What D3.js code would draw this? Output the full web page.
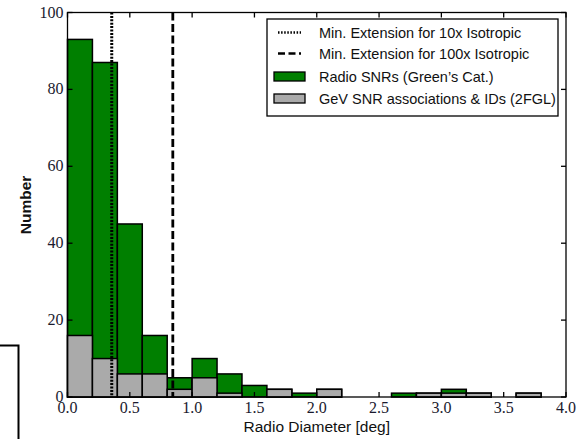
<!DOCTYPE html>
<html>
<head>
<meta charset="utf-8">
<script src="https://cdn.jsdelivr.net/npm/d3@7"></script>
<style>
  body { margin: 0; background: #fff; }
  svg { display: block; }
  .tick-label { font-family: "Liberation Serif", serif; font-size: 16px; fill: #1a1a2e; }
  .axis-label { font-family: "Liberation Sans", sans-serif; font-size: 15.5px; fill: #111; }
  .legend-text { font-family: "Liberation Sans", sans-serif; font-size: 14.5px; fill: #111; }
</style>
</head>
<body>
<svg id="chart" width="583" height="439"></svg>
<script>
// histogram bins, 0.2 deg wide
const binEdges = d3.range(0, 4.0001, 0.2).map((v) => +v.toFixed(1));
const radioCounts = [93, 87, 45, 16, 5, 10, 6, 3, 2, 1, 2, 0, 0, 1, 1, 2, 1, 0, 1, 0];
const gevCounts = [16, 10, 6, 6, 2, 5, 1, 0, 2, 0, 2, 0, 0, 0, 1, 1, 1, 0, 1, 0];
const minExt10x = 0.355;
const minExt100x = 0.845;
const xTicks = [0, 0.5, 1, 1.5, 2, 2.5, 3, 3.5, 4];
const yTicks = [0, 20, 40, 60, 80, 100];
const legendItems = [
  { label: "Min. Extension for 10x Isotropic", type: "dotted" },
  { label: "Min. Extension for 100x Isotropic", type: "dashed" },
  { label: "Radio SNRs (Green\u2019s Cat.)", type: "patch", color: "#007f00" },
  { label: "GeV SNR associations & IDs (2FGL)", type: "patch", color: "#aaaaaa" },
];

const margin = { left: 67.5, right: 17, top: 12.5, bottom: 42 };
const width = 583, height = 439;

const svg = d3.select("#chart");

const x = d3.scaleLinear().domain([0, 4]).range([margin.left, width - margin.right]);
const y = d3.scaleLinear().domain([0, 100]).range([height - margin.bottom, margin.top]);

const bins = radioCounts.map((c, i) => ({ x0: binEdges[i], x1: binEdges[i + 1], radio: c, gev: gevCounts[i] }));

const gBars = svg.append("g");
gBars.selectAll(".radio")
  .data(bins.filter((d) => d.radio > 0))
  .join("rect")
  .attr("class", "radio")
  .attr("x", (d) => x(d.x0))
  .attr("width", (d) => x(d.x1) - x(d.x0))
  .attr("y", (d) => y(d.radio))
  .attr("height", (d) => y(0) - y(d.radio))
  .attr("fill", "#007f00")
  .attr("stroke", "#000")
  .attr("stroke-width", 1.5);

gBars.selectAll(".gev")
  .data(bins.filter((d) => d.gev > 0))
  .join("rect")
  .attr("class", "gev")
  .attr("x", (d) => x(d.x0))
  .attr("width", (d) => x(d.x1) - x(d.x0))
  .attr("y", (d) => y(d.gev))
  .attr("height", (d) => y(0) - y(d.gev))
  .attr("fill", "#aaaaaa")
  .attr("stroke", "#000")
  .attr("stroke-width", 1.5);

// vertical extension lines
svg.append("line")
  .attr("x1", x(minExt10x)).attr("x2", x(minExt10x))
  .attr("y1", y(100)).attr("y2", y(0))
  .attr("stroke", "#000").attr("stroke-width", 3)
  .attr("stroke-dasharray", "2,1.4");
svg.append("line")
  .attr("x1", x(minExt100x)).attr("x2", x(minExt100x))
  .attr("y1", y(100)).attr("y2", y(0))
  .attr("stroke", "#000").attr("stroke-width", 2.8)
  .attr("stroke-dasharray", "8,3.5");

// frame
svg.append("rect")
  .attr("x", x(0)).attr("y", y(100))
  .attr("width", x(4) - x(0)).attr("height", y(0) - y(100))
  .attr("fill", "none").attr("stroke", "#000").attr("stroke-width", 1.3);

// inward ticks on all four sides
const tickLen = 5;
const gTicks = svg.append("g").attr("stroke", "#000").attr("stroke-width", 1.3);
xTicks.forEach((t) => {
  gTicks.append("line").attr("x1", x(t)).attr("x2", x(t)).attr("y1", y(0)).attr("y2", y(0) - tickLen);
  gTicks.append("line").attr("x1", x(t)).attr("x2", x(t)).attr("y1", y(100)).attr("y2", y(100) + tickLen);
});
yTicks.forEach((t) => {
  gTicks.append("line").attr("x1", x(0)).attr("x2", x(0) + tickLen).attr("y1", y(t)).attr("y2", y(t));
  gTicks.append("line").attr("x1", x(4)).attr("x2", x(4) - tickLen).attr("y1", y(t)).attr("y2", y(t));
});

svg.append("g").selectAll("text")
  .data(xTicks)
  .join("text")
  .attr("class", "tick-label")
  .attr("x", (d) => x(d))
  .attr("y", y(0) + 16)
  .attr("text-anchor", "middle")
  .text((d) => d.toFixed(1));

svg.append("g").selectAll("text")
  .data(yTicks)
  .join("text")
  .attr("class", "tick-label")
  .attr("x", x(0) - 4)
  .attr("y", (d) => y(d) + 5)
  .attr("text-anchor", "end")
  .text((d) => d);

svg.append("text")
  .attr("class", "axis-label")
  .attr("x", (x(0) + x(4)) / 2)
  .attr("y", 432)
  .attr("text-anchor", "middle")
  .text("Radio Diameter [deg]");

svg.append("text")
  .attr("class", "axis-label")
  .attr("font-weight", "bold")
  .attr("font-size", 13)
  .attr("transform", "translate(31,205) rotate(-90)")
  .attr("text-anchor", "middle")
  .text("Number");

// legend
const lg = svg.append("g").attr("transform", "translate(267,19)");
lg.append("rect")
  .attr("width", 291).attr("height", 97)
  .attr("fill", "#fff").attr("stroke", "#000").attr("stroke-width", 1.3);
const rowY = [13.5, 34.5, 57.5, 79.5];
legendItems.forEach((item, i) => {
  const row = lg.append("g").attr("transform", `translate(0,${rowY[i]})`);
  if (item.type === "patch") {
    row.append("rect")
      .attr("x", 7).attr("y", -4.5).attr("width", 31).attr("height", 9)
      .attr("fill", item.color).attr("stroke", "#000").attr("stroke-width", 1.3);
  } else {
    row.append("line")
      .attr("x1", 11).attr("x2", 34).attr("y1", 0).attr("y2", 0)
      .attr("stroke", "#000").attr("stroke-width", 2.5)
      .attr("stroke-dasharray", item.type === "dotted" ? "1.5,1.6" : "7,3.5");
  }
  row.append("text")
    .attr("class", "legend-text")
    .attr("x", 52).attr("y", 5)
    .text(item.label);
});

// stray frame fragment at lower left of the page
svg.append("path")
  .attr("d", "M0,345.5H18.5V439")
  .attr("fill", "none").attr("stroke", "#000").attr("stroke-width", 2);
</script>
</body>
</html>
